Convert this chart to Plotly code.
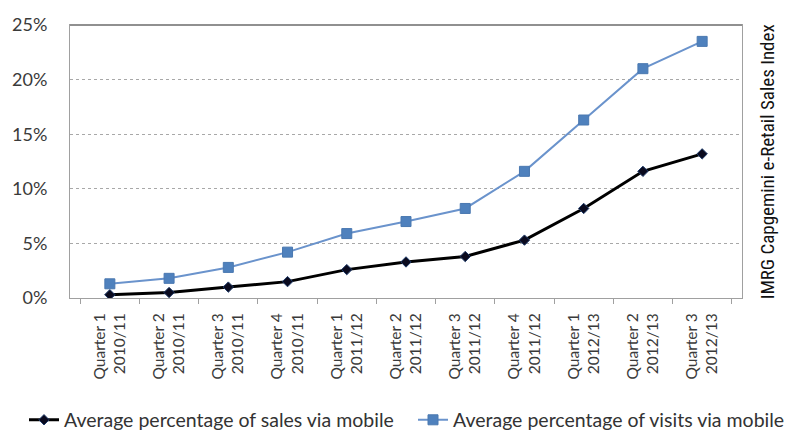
import plotly.graph_objects as go

quarters = ["Quarter 1", "Quarter 2", "Quarter 3", "Quarter 4",
            "Quarter 1", "Quarter 2", "Quarter 3", "Quarter 4",
            "Quarter 1", "Quarter 2", "Quarter 3"]
years = ["2010/11", "2010/11", "2010/11", "2010/11",
         "2011/12", "2011/12", "2011/12", "2011/12",
         "2012/13", "2012/13", "2012/13"]
categories = [f"{q}<br>{y}" for q, y in zip(quarters, years)]

sales_pct = [0.3, 0.5, 1.0, 1.5, 2.6, 3.3, 3.8, 5.3, 8.2, 11.6, 13.2]
visits_pct = [1.3, 1.8, 2.8, 4.2, 5.9, 7.0, 8.2, 11.6, 16.3, 21.0, 23.5]

sales = [v / 100 for v in sales_pct]
visits = [v / 100 for v in visits_pct]

font_family = "Lato, 'Open Sans', sans-serif"

fig = go.Figure()
fig.add_trace(go.Scatter(
    x=categories, y=sales, mode="lines+markers",
    name="Average percentage of sales via mobile",
    line=dict(color="#000000", width=3),
    marker=dict(symbol="diamond", size=8, color="#0a0a1e",
                line=dict(color="#1f3b6a", width=1)),
    legend="legend",
))
fig.add_trace(go.Scatter(
    x=categories, y=visits, mode="lines+markers",
    name="Average percentage of visits via mobile",
    line=dict(color="#6a93cc", width=2),
    marker=dict(symbol="square", size=10, color="#4f81bd",
                line=dict(color="#4a78b0", width=1)),
    legend="legend2",
))

legend_common = dict(orientation="h", xref="container", yref="container",
                     xanchor="left", y=0.043, yanchor="middle",
                     font=dict(size=19.5, color="#333333", family=font_family),
                     itemwidth=30, bgcolor="rgba(0,0,0,0)")

fig.update_layout(
    width=792, height=439,
    margin=dict(l=67, r=50, t=25, b=141),
    paper_bgcolor="white", plot_bgcolor="white",
    font=dict(family=font_family, color="#3a3a3a", size=13),
    showlegend=True,
    legend=dict(x=24 / 792, **legend_common),
    legend2=dict(x=413 / 792, **legend_common),
    xaxis=dict(
        type="category", tickangle=-90, ticks="outside", tickson="boundaries",
        ticklen=5, tickcolor="#a0a0a0", ticklabelstandoff=8,
        showline=True, linecolor="#a0a0a0", linewidth=1, mirror=True,
        showgrid=False, tickfont=dict(size=15.5, color="#3a3a3a"),
    ),
    yaxis=dict(
        range=[0, 0.25], dtick=0.05, tickformat=".0%",
        showgrid=True, gridcolor="#a8a8a8", griddash="dot", gridwidth=1,
        showline=True, linecolor="#a0a0a0", linewidth=1, mirror=True,
        ticks="", ticklabelstandoff=18, tickfont=dict(size=18, color="#3a3a3a"),
        zeroline=False,
    ),
    annotations=[dict(
        text="IMRG Capgemini e-Retail Sales Index",
        xref="paper", yref="paper", x=1.0385, y=0.5,
        xanchor="center", yanchor="middle", textangle=-90,
        showarrow=False,
        font=dict(family="'Liberation Sans Narrow', 'Arial Narrow', 'Roboto Condensed', sans-serif",
                  size=19, color="#111111"),
    )],
)

fig.add_shape(type="line", xref="paper", yref="paper", x0=0, x1=1, y0=1, y1=1,
              line=dict(color="#909090", width=2))

fig.write_html("out.html")
